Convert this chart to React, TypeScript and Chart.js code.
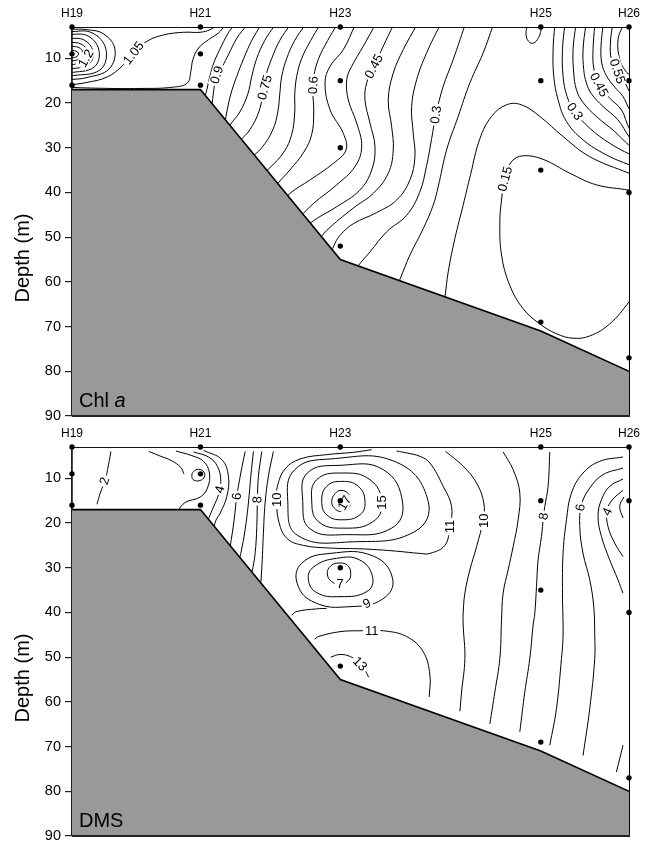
import React, { useEffect, useRef } from "react";
import { Chart, registerables } from "chart.js";

Chart.register(...registerables);

type Pt = [number, number];
type Lbl = { text: string; x: number; d: number; rot: number };

const FONT = "'Liberation Sans', Arial, Helvetica, sans-serif";

// ---- stations / axes ----
const stationNames = ["H19", "H21", "H23", "H25", "H26"];
const stationDistance = [0, 12.86, 26.86, 46.93, 55.76];
const bottomDepth = [17, 17, 55, 71, 80];
const depthTicks = [10, 20, 30, 40, 50, 60, 70, 80, 90];
const DEPTH_MIN = 3;
const DEPTH_MAX = 90;

// ---- sample depths per station ----
const samplesH19 = [3, 9, 16];
const samplesH21 = [3, 9, 16];
const samplesH23 = [3, 15, 30, 52];
const samplesH25 = [3, 15, 35, 69];
const samplesH26 = [3, 15, 40, 77];
const sampleDepths = [samplesH19, samplesH21, samplesH23, samplesH25, samplesH26];

// ---- Chl a contours (distance, depth) ----
const chl_12a: Pt[] = [[-0.3, 8.1], [0.4, 8.4], [0.66, 9.0], [0.4, 9.7], [-0.3, 10.0]];
const chl_12b: Pt[] = [[-0.3, 7.3], [0.7, 7.6], [1.1, 8.8], [0.8, 10.1], [-0.3, 10.7]];
const chl_12c: Pt[] = [[-0.3, 6.4], [0.9, 6.8], [1.6, 8.6], [1.3, 10.6], [-0.3, 11.6]];
const chl_12d: Pt[] = [[-0.3, 5.5], [1.2, 5.9], [2.1, 8.4], [1.7, 11.3], [-0.3, 12.5]];
const chl_12e: Pt[] = [[-0.3, 4.6], [1.6, 5.0], [2.7, 8.2], [2.2, 12.0], [-0.3, 13.3]];
const chl_12f: Pt[] = [[-0.3, 4.0], [2.0, 4.3], [3.4, 8.0], [2.8, 12.6], [-0.3, 14.0]];
const chl_12g: Pt[] = [[-0.3, 3.5], [1.5, 3.6], [3.2, 4.6], [4.3, 8.0], [3.7, 12.4], [1.5, 14.3], [-0.3, 14.8]];
const chl_105: Pt[] = [[-0.34, 16.0], [1.5, 15.4], [3.5, 14.2], [5.0, 11.8], [6.16, 8.82], [7.5, 6.2], [9.16, 4.78], [11.16, 4.18], [12.83, 4.18], [13.83, 3.59], [14.5, 2.6]];
const chl_100: Pt[] = [[-0.34, 16.5], [2.83, 16.7], [6.83, 16.75], [10.16, 16.45], [11.56, 15.5], [11.9, 12.9], [12.1, 10.3], [12.67, 7.7], [13.67, 5.83], [14.67, 4.33], [15.33, 2.6]];
const chl_095: Pt[] = [[16.2, 2.6], [15.6, 4.5], [14.8, 8], [14.2, 11], [13.8, 14], [13.5, 17], [13.2, 19.5]];
const chl_090: Pt[] = [[17.5, 2.6], [16.5, 5.5], [15.7, 9], [15.0, 12], [14.5, 13.7], [14.2, 17], [14.0, 21]];
const chl_085: Pt[] = [[18.9, 2.6], [18.0, 6], [17.2, 10], [16.5, 14], [15.9, 18], [15.5, 22], [15.2, 26]];
const chl_080: Pt[] = [[20.3, 2.6], [19.3, 6], [18.5, 10], [18.0, 14], [17.6, 18], [16.8, 22], [15.8, 25], [15.2, 27.5]];
const chl_075: Pt[] = [[21.8, 2.6], [20.8, 6], [20.0, 10], [19.4, 14], [19.1, 18], [18.7, 22], [17.8, 26], [16.8, 28.5], [16.2, 30.5]];
const chl_070: Pt[] = [[23.3, 2.6], [22.3, 6], [21.5, 10], [21.0, 14], [20.8, 18], [20.6, 22], [20.1, 26], [19.0, 30], [17.8, 32.5], [17.2, 34]];
const chl_065: Pt[] = [[24.8, 2.6], [23.9, 6], [23.0, 10], [22.5, 14], [22.3, 18], [22.3, 22], [22.0, 27], [21.2, 31], [19.8, 34.5], [18.6, 37]];
const chl_060: Pt[] = [[26.5, 2.6], [25.6, 6], [24.7, 10], [24.2, 14], [24.1, 17], [24.2, 22], [24.0, 27], [23.2, 31], [21.8, 35], [20.6, 38], [19.8, 40.5]];
const chl_055: Pt[] = [[28.33, 2.6], [27.16, 8.07], [25.83, 11.8], [25.33, 15.5], [25.83, 21.5], [27.16, 26.8], [27.43, 30.5], [26.16, 33.5], [23.83, 37.2], [21.83, 40.2], [21.0, 42.5]];
const chl_050: Pt[] = [[30.33, 2.6], [29.16, 7.3], [28.0, 11.8], [27.5, 14.8], [27.66, 19.3], [28.5, 24.5], [29.0, 29.8], [28.33, 34.2], [26.5, 38.3], [24.16, 42.5], [22.8, 45.5]];
const chl_045: Pt[] = [[32.16, 2.6], [31.16, 7.3], [30.23, 11.8], [29.5, 15.5], [29.33, 19.3], [29.83, 24.5], [30.33, 29.8], [30.0, 35], [28.8, 39.5], [26.5, 43.2], [24.0, 46.6], [23.3, 48.5]];
const chl_040: Pt[] = [[34.5, 2.6], [33.16, 8.07], [32.16, 13.3], [31.66, 19.3], [32.0, 25.3], [32.16, 30.5], [31.66, 35.7], [30.16, 40.2], [28.16, 43.5], [25.5, 48.5], [24.6, 51]];
const chl_035: Pt[] = [[36.83, 2.6], [35.5, 8.8], [34.5, 14.8], [34.0, 20.8], [34.16, 26.8], [34.33, 32], [33.83, 37.2], [32.5, 41.7], [30.5, 44.5], [28.16, 47], [26.83, 49.6], [26.2, 52], [25.9, 54]];
const chl_030: Pt[] = [[39.33, 2.6], [38.16, 10.3], [37.16, 16.3], [36.43, 22.6], [36.0, 28], [35.5, 34], [34.8, 40], [33.5, 45.1], [31.5, 48.8], [29.83, 53.3], [28.83, 55.9], [28.3, 57.5]];
const chl_025: Pt[] = [[42.16, 2.6], [41.16, 8.8], [39.83, 15.5], [38.66, 23], [37.5, 30.5], [36.66, 38.7], [36.16, 42.83], [35.16, 48.1], [33.83, 54.0], [32.83, 59.4], [32.5, 61]];
const chl_020: Pt[] = [[37.1, 66], [37.33, 63.4], [37.66, 57.8], [38.33, 50.3], [39.16, 42.83], [39.9, 36], [40.83, 28], [42.0, 23], [43.5, 20.4], [45.0, 20.4], [46.83, 23], [49.16, 27.5], [51.83, 32], [55.76, 35.7], [56.5, 36.3]];
const chl_015: Pt[] = [[56.5, 40], [55.76, 39.5], [52.5, 38.3], [49.83, 35.7], [47.16, 32.6], [45.16, 31.8], [44.0, 33.1], [43.33, 36.5], [43.0, 41.7], [42.83, 46.6], [43.0, 54.0], [43.83, 60.8], [45.16, 66.0], [46.83, 69.4], [48.5, 71.6], [50.16, 72.6], [51.83, 72.1], [53.83, 69.4], [55.76, 64.5], [56.5, 62]];
const chl_h25: Pt[] = [[45.6, 2.5], [45.45, 4.5], [45.7, 6.2], [46.2, 6.6], [46.7, 5.4], [46.95, 3.8], [47.05, 2.5]];
const chl_h26_025: Pt[] = [[48.33, 2.6], [48.16, 8.07], [48.23, 14.05], [48.66, 19.28], [49.5, 24.14], [51.16, 28.25], [53.5, 31.61], [55.83, 33.86], [56.5, 34.3]];
const chl_h26_030: Pt[] = [[49.33, 2.6], [49.1, 8.07], [49.16, 14.05], [49.56, 18.53], [50.33, 21.9], [51.83, 25.63], [53.83, 29.0], [55.83, 31.46], [56.5, 32]];
const chl_h26_035: Pt[] = [[50.43, 2.6], [50.16, 8.07], [50.23, 13.3], [50.5, 17.04], [51.16, 19.88], [52.5, 23.02], [54.33, 26.38], [55.83, 29.6], [56.5, 30.5]];
const chl_h26_040: Pt[] = [[51.43, 2.6], [51.16, 8.07], [51.23, 12.55], [51.5, 15.54], [52.0, 17.94], [53.16, 20.78], [54.66, 23.77], [55.83, 27.73], [56.5, 29]];
const chl_h26_045: Pt[] = [[52.33, 2.6], [52.16, 8.07], [52.23, 12.18], [52.76, 15.92], [53.83, 18.91], [55.0, 21.52], [55.83, 25.86], [56.5, 27]];
const chl_h26_050: Pt[] = [[53.16, 2.6], [52.96, 7.32], [53.03, 11.06], [53.5, 13.9], [54.33, 16.44], [55.16, 18.53], [55.83, 21.5], [56.5, 23]];
const chl_h26_055: Pt[] = [[54.1, 2.6], [53.9, 6.58], [54.0, 10.31], [54.6, 12.93], [55.23, 14.8], [55.83, 17.5], [56.5, 19]];
const chl_h26_060: Pt[] = [[55.16, 2.6], [54.66, 5.83], [54.83, 10.31], [55.33, 12.55], [55.83, 13.68], [56.5, 14]];

const chlLines: Pt[][] = [
  chl_12a, chl_12b, chl_12c, chl_12d, chl_12e, chl_12f, chl_12g,
  chl_105, chl_100, chl_095, chl_090, chl_085, chl_080, chl_075, chl_070, chl_065,
  chl_060, chl_055, chl_050, chl_045, chl_040, chl_035, chl_030, chl_025, chl_020, chl_015,
  chl_h25, chl_h26_025, chl_h26_030, chl_h26_035, chl_h26_040, chl_h26_045, chl_h26_050,
  chl_h26_055, chl_h26_060,
];
const chlLoops: Pt[][] = [];
const chlLabels: Lbl[] = [
  { text: "1.2", x: 1.4, d: 10.0, rot: -60 },
  { text: "1.05", x: 6.16, d: 8.82, rot: -52 },
  { text: "0.9", x: 14.5, d: 13.7, rot: -72 },
  { text: "0.75", x: 19.3, d: 16.5, rot: -75 },
  { text: "0.6", x: 24.15, d: 16.0, rot: -88 },
  { text: "0.45", x: 30.23, d: 11.8, rot: -62 },
  { text: "0.3", x: 36.43, d: 22.6, rot: -82 },
  { text: "0.15", x: 43.35, d: 37.0, rot: -75 },
  { text: "0.3", x: 50.33, d: 21.9, rot: 55 },
  { text: "0.45", x: 52.76, d: 15.9, rot: 62 },
  { text: "0.55", x: 54.6, d: 12.9, rot: 72 },
];

// ---- DMS contours (distance, depth) ----
const dms_2: Pt[] = [[3.9, 4.0], [3.56, 8.07], [3.33, 10.3], [2.83, 13.3], [2.5, 15.8]];
const dms_a: Pt[] = [[7.7, 4.0], [8.8, 5.0], [10.0, 6.1], [10.9, 7.6], [11.2, 9.0]];
const dms_b: Pt[] = [[10.4, 3.9], [12.0, 4.93], [13.16, 6.2], [13.76, 8.82], [13.56, 12.18], [12.83, 14.2], [11.33, 15.4], [10.5, 17.5]];
const dms_4: Pt[] = [[12.16, 4.11], [13.66, 5.23], [14.56, 7.32], [14.9, 10.69], [14.66, 13.68], [14.16, 16.44], [13.83, 18.16], [13.6, 19.5]];
const dms_5: Pt[] = [[13.16, 3.74], [15.0, 5.83], [15.66, 9.57], [15.5, 14.05], [14.83, 17.79], [14.43, 19.3], [14.2, 21]];
const dms_6: Pt[] = [[17.33, 4.0], [16.9, 8.8], [16.5, 14.05], [16.23, 19.3], [15.83, 25.3], [15.7, 26.5]];
const dms_7: Pt[] = [[18.16, 4.0], [17.9, 9.57], [17.66, 15.54], [17.33, 21.5], [16.9, 26.8], [16.7, 28.5]];
const dms_8: Pt[] = [[19.0, 4.0], [18.66, 9.57], [18.56, 14.8], [18.5, 20.8], [18.33, 26.8], [18.0, 31.2], [17.8, 32.5]];
const dms_9: Pt[] = [[20.16, 4.0], [19.66, 9.57], [19.33, 15.54], [19.16, 22.3], [19.0, 30.1], [18.83, 35], [18.7, 36.5]];
const dms_10: Pt[] = [[30.0, 3.6], [28.16, 4.19], [25.5, 4.71], [22.83, 5.68], [21.33, 7.92], [20.56, 11.8], [20.5, 14.8], [20.66, 19.3], [21.5, 23.4], [23.16, 25.0], [25.83, 25.6], [29.16, 25.8], [32.5, 26.3], [34.83, 26.8], [35.83, 26.8], [37.33, 25.0], [37.83, 20.8], [38.0, 16.3], [37.16, 11.8], [35.83, 6.58], [34.83, 5.08], [33.5, 4.33], [32.5, 3.9]];
const dms_11b: Pt[] = [[24.3, 46.0], [24.66, 45.4], [26.83, 44.3], [28.83, 44.1], [31.16, 44.1], [33.5, 45.4], [35.16, 48.8], [35.83, 54.0], [35.76, 58.9]];
const dms_13: Pt[] = [[25.9, 50.0], [26.83, 49.4], [27.9, 49.9], [28.83, 51.3], [29.33, 52.9], [29.7, 54.5]];
const dms_m: Pt[] = [[22.0, 40.6], [22.5, 39.8], [24.5, 39.2], [25.5, 39.1]];
const dms_r10: Pt[] = [[37.4, 4.0], [39.16, 7.3], [40.5, 11.06], [41.23, 15.54], [41.16, 19.3], [40.5, 25.3], [39.83, 30.5], [39.33, 35.7], [39.16, 40.2], [39.16, 42.83], [39.33, 50.3], [39.0, 57.8], [38.83, 62.1]];
const dms_r9: Pt[] = [[43.16, 4.11], [44.16, 8.07], [44.83, 13.3], [44.66, 19.3], [44.16, 25.3], [43.66, 30.5], [43.16, 35.7], [43.0, 41.7], [42.83, 50.3], [42.33, 57.8], [41.83, 64.9]];
const dms_r8: Pt[] = [[47.83, 4.11], [47.66, 11.8], [47.33, 16.3], [47.2, 18.5], [47.0, 23.0], [46.66, 28.25], [46.5, 34.2], [46.33, 40.2], [46.16, 42.83], [45.83, 50.3], [45.33, 57.8], [44.83, 66.7]];
const dms_r7: Pt[] = [[55.16, 5.23], [52.83, 6.2], [51.16, 8.82], [50.0, 13.3], [49.5, 19.3], [49.16, 26.8], [49.1, 35.7], [49.16, 45.1], [49.0, 50.3], [48.5, 61.5], [47.83, 69.7]];
const dms_r6: Pt[] = [[55.16, 7.7], [53.16, 9.19], [51.83, 12.18], [51.0, 15.92], [50.83, 20.8], [51.16, 26.8], [51.83, 32.7], [52.23, 38.7], [52.33, 45.1], [52.33, 50.3], [51.83, 61.5], [51.16, 72.0]];
const dms_r5: Pt[] = [[55.16, 10.16], [53.83, 11.8], [53.0, 14.8], [52.66, 18.5], [53.0, 23.0], [53.83, 28.25], [54.66, 32.7], [55.16, 35.7]];
const dms_r4: Pt[] = [[55.16, 12.7], [54.1, 14.8], [53.56, 17.2], [53.66, 20.8], [54.33, 24.5], [55.16, 27.5]];
const dms_r3: Pt[] = [[55.23, 14.2], [54.83, 16.3], [55.16, 18.9]];
const dms_rs: Pt[] = [[55.16, 69.7], [54.5, 75.7]];

const dms_h21loop: Pt[] = [[12.0, 9.6], [12.15, 8.5], [12.7, 8.0], [13.2, 8.6], [13.25, 9.7], [12.8, 10.5], [12.2, 10.4]];
const dms_loop17: Pt[] = [[26.0, 15.17], [26.33, 13.45], [26.93, 12.7], [27.66, 13.45], [27.9, 15.17], [27.66, 16.66], [26.93, 17.41], [26.26, 16.66]];
const dms_loop16: Pt[] = [[25.0, 15.17], [25.5, 11.8], [27.0, 10.69], [28.66, 11.8], [29.33, 15.17], [28.83, 18.16], [27.0, 19.28], [25.5, 18.16]];
const dms_loop15: Pt[] = [[24.0, 15.17], [24.5, 10.31], [27.0, 8.82], [29.83, 10.31], [31.0, 15.4], [30.16, 19.66], [27.16, 21.15], [24.66, 19.66]];
const dms_loop14: Pt[] = [[23.1, 15.17], [23.56, 8.82], [26.83, 7.1], [31.16, 8.07], [33.1, 15.54], [32.0, 21.15], [27.5, 22.6], [23.83, 21.3]];
const dms_loop13: Pt[] = [[21.6, 15.17], [22.3, 8.07], [25.83, 5.68], [32.5, 6.43], [35.66, 15.17], [34.33, 21.9], [28.16, 24.2], [22.6, 22.8]];
const dms_loop7: Pt[] = [[25.56, 31.39], [25.9, 29.6], [26.76, 28.95], [27.6, 29.5], [27.9, 31.24], [27.66, 32.88], [26.83, 33.63], [26.0, 33.11]];
const dms_loop8: Pt[] = [[23.66, 32.58], [24.2, 29.8], [26.5, 27.9], [28.83, 28.3], [30.1, 32.2], [29.5, 35.35], [26.83, 36.47], [24.5, 35.57]];
const dms_loop9: Pt[] = [[22.56, 33.63], [23.0, 29.0], [25.83, 26.8], [30.16, 27.4], [32.1, 32.5], [31.1, 37.0], [27.83, 38.71], [24.33, 37.82]];

const dmsLines: Pt[][] = [
  dms_2, dms_a, dms_b, dms_4, dms_5, dms_6, dms_7, dms_8, dms_9, dms_10, dms_11b, dms_13, dms_m,
  dms_r10, dms_r9, dms_r8, dms_r7, dms_r6, dms_r5, dms_r4, dms_r3, dms_rs,
];
const dmsLoops: Pt[][] = [
  dms_h21loop, dms_loop17, dms_loop16, dms_loop15, dms_loop14, dms_loop13, dms_loop7, dms_loop8, dms_loop9,
];
const dmsLabels: Lbl[] = [
  { text: "2", x: 3.25, d: 10.6, rot: -75 },
  { text: "4", x: 14.8, d: 12.5, rot: -75 },
  { text: "6", x: 16.5, d: 14.05, rot: -85 },
  { text: "8", x: 18.56, d: 14.8, rot: -88 },
  { text: "10", x: 20.5, d: 14.8, rot: -90 },
  { text: "17", x: 27.3, d: 15.5, rot: -60 },
  { text: "15", x: 31.0, d: 15.4, rot: -90 },
  { text: "7", x: 26.85, d: 33.6, rot: 0 },
  { text: "9", x: 29.5, d: 38.0, rot: -25 },
  { text: "11", x: 30.0, d: 44.1, rot: 0 },
  { text: "13", x: 28.83, d: 51.5, rot: 45 },
  { text: "11", x: 37.83, d: 20.8, rot: -90 },
  { text: "10", x: 41.2, d: 19.5, rot: -90 },
  { text: "8", x: 47.2, d: 18.5, rot: -80 },
  { text: "6", x: 50.9, d: 16.5, rot: -80 },
  { text: "4", x: 53.6, d: 17.5, rot: -65 },
];

// ---- helpers ----
const toXY = (pts: Pt[]) => pts.map(([x, d]) => ({ x, y: d }));

function lineDataset(pts: Pt[]) {
  return {
    data: toXY(pts),
    showLine: true,
    borderColor: "#000",
    borderWidth: 1,
    pointRadius: 0,
    tension: 0.4,
    capBezierPoints: false,
    fill: false,
    order: 2,
  };
}

function loopDataset(pts: Pt[]) {
  const n = pts.length;
  const ext = [...pts, pts[0], pts[1], pts[2]];
  return {
    data: toXY(ext),
    showLine: true,
    borderColor: "#000",
    borderWidth: 1,
    pointRadius: 0,
    tension: 0.45,
    capBezierPoints: false,
    fill: false,
    order: 2,
    segment: {
      borderColor: (ctx: any) =>
        ctx.p0DataIndex === 0 || ctx.p0DataIndex === n + 1 ? "rgba(0,0,0,0)" : undefined,
    },
  };
}

const annotPlugin = {
  id: "annot",
  beforeDatasetDraw(chart: any, args: any, opts: any) {
    if (args.index !== 1) return;
    const { ctx } = chart;
    const xs = chart.scales.x;
    const ys = chart.scales.y;
    ctx.save();
    ctx.font = `13px ${FONT}`;
    ctx.textAlign = "center";
    ctx.textBaseline = "middle";
    for (const l of opts.labels as Lbl[]) {
      const px = xs.getPixelForValue(l.x);
      const py = ys.getPixelForValue(l.d);
      ctx.save();
      ctx.translate(px, py);
      ctx.rotate((l.rot * Math.PI) / 180);
      const w = ctx.measureText(l.text).width;
      ctx.fillStyle = "#fff";
      ctx.fillRect(-w / 2 - 2, -6, w + 4, 12);
      ctx.fillStyle = "#000";
      ctx.fillText(l.text, 0, 0.5);
      ctx.restore();
    }
    ctx.restore();
  },
  afterDraw(chart: any, _args: any, opts: any) {
    const { ctx, chartArea: a } = chart;
    ctx.save();
    ctx.strokeStyle = "#000";
    ctx.lineWidth = 1;
    ctx.beginPath();
    ctx.moveTo(a.right + 0.5, a.top);
    ctx.lineTo(a.right + 0.5, a.bottom);
    ctx.stroke();
    ctx.strokeStyle = "#222";
    ctx.lineWidth = 2;
    ctx.beginPath();
    ctx.moveTo(a.left, a.bottom);
    ctx.lineTo(a.right + 1, a.bottom);
    ctx.stroke();

    ctx.fillStyle = "#000";
    ctx.font = `20px ${FONT}`;
    ctx.textAlign = "center";
    ctx.textBaseline = "middle";
    ctx.save();
    ctx.translate(23, a.top + 231);
    ctx.rotate(-Math.PI / 2);
    ctx.fillText("Depth (m)", 0, 0);
    ctx.restore();

    ctx.textAlign = "left";
    ctx.textBaseline = "alphabetic";
    const bx = a.left + 7;
    const by = a.bottom - 9.3;
    if (opts.panel === "chl") {
      ctx.font = `20px ${FONT}`;
      ctx.fillText("Chl ", bx, by);
      const w = ctx.measureText("Chl ").width;
      ctx.font = `italic 20px ${FONT}`;
      ctx.fillText("a", bx + w, by);
    } else {
      ctx.font = `20px ${FONT}`;
      ctx.fillText("DMS", bx, by);
    }
    ctx.restore();
  },
};

function buildConfig(lines: Pt[][], loops: Pt[][], labels: Lbl[], panel: string, padBottom: number) {
  const dots: { x: number; y: number }[] = [];
  stationDistance.forEach((x, i) => sampleDepths[i].forEach((d) => dots.push({ x, y: d })));
  const bathy = stationDistance.map((x, i) => ({ x, y: bottomDepth[i] }));

  const datasets: any[] = [
    {
      data: dots,
      pointRadius: 2.7,
      pointBackgroundColor: "#000",
      pointBorderWidth: 0,
      showLine: false,
      clip: false,
      order: 0,
    },
    {
      data: bathy,
      showLine: true,
      borderColor: "#000",
      borderWidth: 1.6,
      backgroundColor: "#999999",
      pointRadius: 0,
      tension: 0,
      fill: { value: DEPTH_MAX },
      order: 1,
    },
    ...lines.map(lineDataset),
    ...loops.map(loopDataset),
  ];

  return {
    type: "scatter",
    data: { datasets },
    plugins: [annotPlugin],
    options: {
      responsive: false,
      animation: false,
      devicePixelRatio: 1,
      layout: { padding: { left: 0, right: 23, top: 0, bottom: padBottom } },
      plugins: {
        legend: { display: false },
        tooltip: { enabled: false },
        annot: { labels, panel },
      },
      scales: {
        x: {
          type: "linear",
          position: "top",
          min: stationDistance[0],
          max: stationDistance[stationDistance.length - 1],
          grid: { display: false, drawTicks: false },
          border: { display: true, color: "#111", width: 1 },
          ticks: {
            padding: 6,
            autoSkip: false,
            maxRotation: 0,
            color: "#000",
            font: { family: FONT, size: 12 },
            callback: (v: number) => {
              const i = stationDistance.indexOf(v);
              return i >= 0 ? stationNames[i] : "";
            },
          },
          afterBuildTicks: (s: any) => {
            s.ticks = stationDistance.map((v) => ({ value: v }));
          },
          afterFit: (s: any) => {
            s.height = 27;
            s.paddingLeft = 0;
            s.paddingRight = 0;
          },
        },
        y: {
          type: "linear",
          reverse: true,
          min: DEPTH_MIN,
          max: DEPTH_MAX,
          grid: { display: true, drawOnChartArea: false, drawTicks: true, tickLength: 7, color: "#222", lineWidth: 1.2 },
          border: { display: true, color: "#222", width: 1.8 },
          ticks: { padding: 4, color: "#000", font: { family: FONT, size: 14.5 } },
          afterBuildTicks: (s: any) => {
            s.ticks = depthTicks.map((v) => ({ value: v }));
          },
          afterFit: (s: any) => {
            s.width = 72;
            s.paddingTop = 0;
            s.paddingBottom = 0;
          },
        },
      },
    },
  };
}

function Panel(props: { top: number; height: number; padBottom: number; lines: Pt[][]; loops: Pt[][]; labels: Lbl[]; panel: string }) {
  const ref = useRef<HTMLCanvasElement | null>(null);
  useEffect(() => {
    if (!ref.current) return;
    const chart = new Chart(ref.current, buildConfig(props.lines, props.loops, props.labels, props.panel, props.padBottom) as any);
    return () => chart.destroy();
  }, []);
  return (
    <canvas
      ref={ref}
      width={652}
      height={props.height}
      style={{ position: "absolute", left: 0, top: props.top, width: 652, height: props.height }}
    />
  );
}

export default function App() {
  return (
    <div style={{ position: "absolute", left: 0, top: 0, width: 652, height: 843, background: "#fff", overflow: "hidden" }}>
      <Panel top={0} height={425} padBottom={9} lines={chlLines} loops={chlLoops} labels={chlLabels} panel="chl" />
      <Panel top={420} height={423} padBottom={7} lines={dmsLines} loops={dmsLoops} labels={dmsLabels} panel="dms" />
    </div>
  );
}
